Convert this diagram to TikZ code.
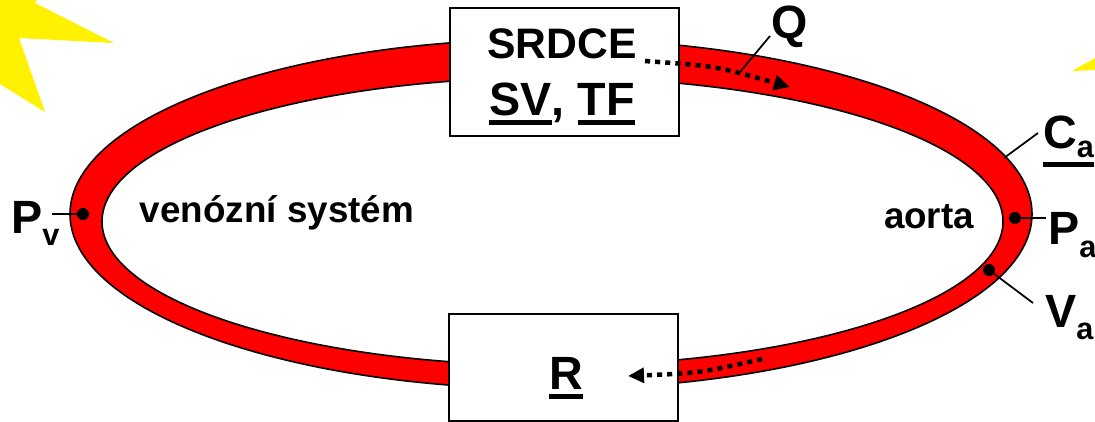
\documentclass[tikz,border=0pt]{standalone}
\usepackage{fontspec}
\setmainfont{Liberation Sans}
\usetikzlibrary{arrows.meta}

\newcommand{\fsize}[1]{\fontsize{#1}{#1}\selectfont}
\newcommand{\thickul}[1]{\vtop{\hbox{#1}\kern 3.6pt\hrule height 3.6pt}}
\newcommand{\lab}[3]{#1\raisebox{#3}{\fsize{23}#2}}

\begin{document}
\begin{tikzpicture}[
	x=.75pt, y=-.75pt,
	vessel/.style={fill=red, draw=black, line width=1.2pt, even odd rule},
	star/.style={fill=yellow, draw=none},
	organ/.style={rectangle, fill=white, draw=black, line width=1.3pt, inner sep=0pt},
	big/.style={anchor=base, font=\bfseries\fsize{35}, inner sep=0pt},
	mid/.style={anchor=base, font=\bfseries\fsize{32}, inner sep=0pt},
	tag/.style={anchor=base, font=\bfseries\fsize{35}, inner sep=0pt},
	small/.style={anchor=base, font=\bfseries\fsize{27.6}, inner sep=0pt},
	sensor/.style={circle, fill=black, draw=none, minimum size=9pt, inner sep=0pt},
	leader/.style={draw=black, line width=1.3pt},
	flow/.style={line width=3.4pt, dash pattern=on 3.8pt off 3.8pt, -{Triangle[length=12pt,width=11pt]}}
	]

	\useasboundingbox (0,0) rectangle (1095,421);

	\fill [star] (0,84)--(45,112)--(19,38)--(114,43)--(35,3)--(37,0)--(0,0)--cycle;
	\fill [star] (1072,71)--(1095,58)--(1095,70)--cycle;

	\path [vessel] (551,214) ellipse [x radius=481, y radius=175]
		(552.5,221.5) ellipse [x radius=450.5, y radius=144];

	\node (srdce) [organ, minimum width=171.8pt, minimum height=96pt] at (564.5,72) {};
	\node (resist) [organ, minimum width=171.8pt, minimum height=80pt] at (563.5,367.5) {};

	\node (srdcelabel) [mid] at (562,58) {SRDCE};
	\node (svtf) [big] at (562,115) {\thickul{SV}, \thickul{TF}};
	\node (rlabel) [big] at (566,389) {\thickul{R}};
	\node (venous) [small] at (277,222) {venózní systém};
	\node (aorta) [small] at (929,228) {aorta};

	\node (qlabel) [tag] at (790,38) {Q};
	\node (ca) [tag, anchor=base west] at (1043,148) {\thickul{\lab{C}{a}{-7pt}}};
	\node (pa) [tag, anchor=base west] at (1048,244) {\lab{P}{a}{-10pt}};
	\node (va) [tag, anchor=base west] at (1045,327) {\lab{V}{a}{-9pt}};
	\node (pv) [tag, anchor=base west] at (11,233) {\lab{P}{v}{-9pt}};

	\node (padot) [sensor] at (1015,218) {};
	\node (vadot) [sensor] at (989,270) {};
	\node (pvdot) [sensor] at (83,214) {};

	\coordinate (qfrom) at (770,36);
	\coordinate (qto) at (740,72);
	\coordinate (cafrom) at (1038,133);
	\coordinate (cato) at (1004,158);
	\coordinate (pafrom) at (1046,218);
	\coordinate (vafrom) at (1033,303);
	\coordinate (pvfrom) at (52,214);

	\draw [leader] (qfrom)--(qto);
	\draw [leader] (cafrom)--(cato);
	\draw [leader] (pafrom)--(padot);
	\draw [leader] (vafrom)--(vadot);
	\draw [leader] (pvfrom)--(pvdot);

	\coordinate (qstart) at (645,61);
	\coordinate (qend) at (790,87);
	\coordinate (rstart) at (762,359);
	\coordinate (rend) at (628,376);

	\draw [flow] (qstart) .. controls (715,66) .. (qend);
	\draw [flow] (rstart) .. controls (700,373) .. (rend);

\end{tikzpicture}
\end{document}
